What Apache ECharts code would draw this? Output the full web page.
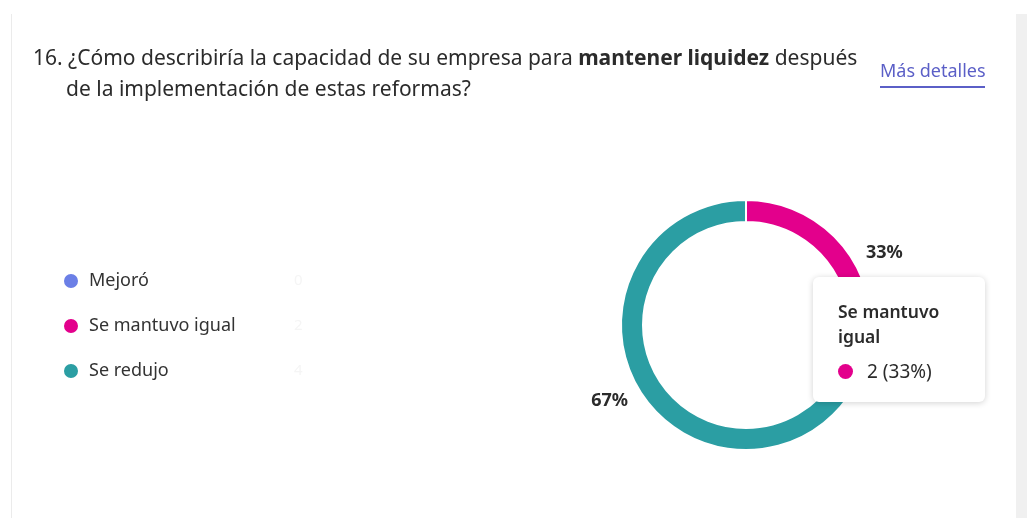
<!DOCTYPE html>
<html>
<head>
<meta charset="utf-8">
<script src="https://cdn.jsdelivr.net/npm/echarts@6/dist/echarts.min.js"></script>
<style>
  html, body { margin: 0; padding: 0; background: #fff; }
  #chart { width: 1027px; height: 518px; }
</style>
</head>
<body>
<div id="chart"></div>
<script>
var categories = ['Mejoró', 'Se mantuvo igual', 'Se redujo'];
var counts = [0, 2, 4];
var colors = ['#6b7fe6', '#e3008c', '#2b9ea3'];
var titleLine1 = '16. ¿Cómo describiría la capacidad de su empresa para {b|mantener liquidez} después';
var titleLine2 = 'de la implementación de estas reformas?';
var linkText = 'Más detalles';
var tipIndex = 1;

var font = '"Noto Sans", "Open Sans", sans-serif';
var chart = echarts.init(document.getElementById('chart'));

var pieData = categories.map(function(name, i) {
  return { name: name, value: counts[i], itemStyle: { color: colors[i] } };
});

chart.setOption({
  animation: false,
  textStyle: { fontFamily: font },
  title: [{
    text: titleLine1,
    left: 28, top: 44,
    textStyle: {
      fontFamily: font, fontSize: 21, fontWeight: 'normal', color: '#2b2b2b',
      rich: { b: { fontFamily: font, fontSize: 21, fontWeight: 'bold', color: '#2b2b2b' } }
    }
  }, {
    text: titleLine2,
    left: 61, top: 75,
    textStyle: { fontFamily: font, fontSize: 21, fontWeight: 'normal', color: '#2b2b2b' }
  }],
  graphic: [
    { type: 'rect', shape: { x: 11, y: 14, width: 1, height: 504 }, style: { fill: '#ebebeb' }, silent: true },
    { type: 'rect', shape: { x: 1016, y: 14, width: 11, height: 504 }, style: { fill: '#f0f0f0' }, silent: true },
    { type: 'text', left: 880, top: 63,
      style: { text: linkText, fontFamily: font, fontSize: 18, fill: '#5b5fc7' } },
    { type: 'rect', shape: { x: 880, y: 86, width: 105, height: 2 }, style: { fill: '#5b5fc7' }, silent: true }
  ],
  legend: {
    orient: 'vertical',
    left: 62, top: 272,
    padding: 0,
    icon: 'circle',
    itemWidth: 16, itemHeight: 16,
    itemGap: 27,
    selectedMode: false,
    data: categories,
    formatter: function(name) {
      return '{n|' + name + '}{c|' + counts[categories.indexOf(name)] + '}';
    },
    textStyle: {
      rich: {
        n: { fontFamily: font, fontSize: 18, color: '#333', width: 205, padding: [0, 0, 0, 5] },
        c: { fontFamily: font, fontSize: 15, color: '#f5f5f5' }
      }
    }
  },
  tooltip: {
    trigger: 'item',
    alwaysShowContent: true,
    showDelay: 0,
    transitionDuration: 0,
    position: [813, 277],
    backgroundColor: '#fff',
    borderWidth: 0,
    padding: 0,
    extraCssText: 'border-radius:6px;box-shadow:0 1px 6px rgba(0,0,0,0.18);',
    formatter: function(p) {
      return '<div style="width:172px;height:125px;box-sizing:border-box;padding:22px 12px 0 25px;font-family:' + font.replace(/"/g, '\'') + ';color:#2b2b2b;">' +
        '<div style="font-size:17.5px;font-weight:600;line-height:25px;white-space:normal;width:120px;">' + p.name + '</div>' +
        '<div style="margin-top:10px;font-size:19px;line-height:24px;"><span style="display:inline-block;width:15px;height:15px;border-radius:8px;background:' + p.color + ';margin-right:14px;vertical-align:-1px;"></span>' +
        p.value + ' (' + Math.round(p.percent) + '%)</div></div>';
    }
  },
  series: [{
    type: 'pie',
    center: [746, 325],
    radius: [103, 125],
    startAngle: 90,
    clockwise: true,
    avoidLabelOverlap: false,
    minShowLabelAngle: 1,
    itemStyle: { borderColor: '#fff', borderWidth: 2 },
    emphasis: { scale: false, disabled: true },
    label: {
      position: 'outside',
      fontFamily: font, fontSize: 18, fontWeight: 'bold', color: '#2b2b2b',
      formatter: function(p) { return p.value ? Math.round(p.percent) + '%' : ''; }
    },
    labelLine: { show: false, length: 2, length2: 2 },
    labelLayout: function(params) {
      // right-hand labels sit a little higher, left-hand ones a little lower
      return params.labelRect.x > 746 ? { dx: 3, dy: -9 } : { dx: -1, dy: 12 };
    },
    data: pieData
  }]
});

chart.dispatchAction({ type: 'showTip', seriesIndex: 0, dataIndex: tipIndex });
</script>
</body>
</html>
